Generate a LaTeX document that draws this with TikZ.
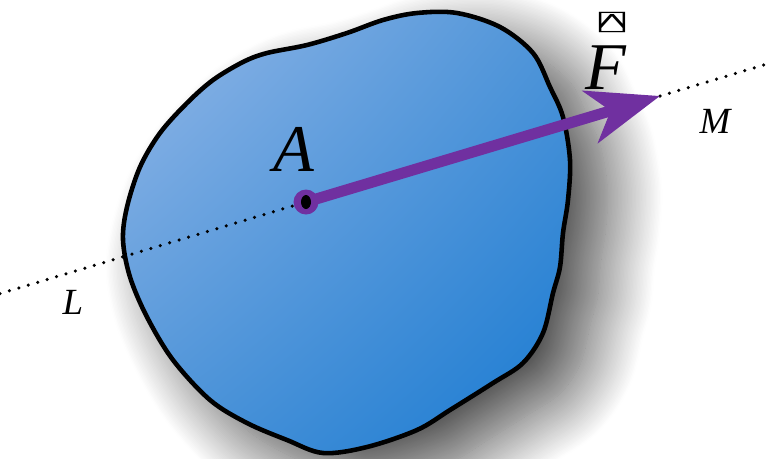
\documentclass[tikz,border=0pt]{standalone}
\usepackage{fontspec}
\newfontfamily\labfont{Liberation Serif}
\newfontfamily\symfont{DejaVu Sans Mono}
\usetikzlibrary{arrows.meta,shadows.blur,shadings}

\begin{document}
\begin{tikzpicture}[x=0.02cm,y=-0.02cm]
    \definecolor{myforce}{RGB}{112,48,160}
    \definecolor{mybodyhi}{RGB}{148,184,232}
    \definecolor{mybodymid}{RGB}{78,148,216}
    \definecolor{mybodylo}{RGB}{24,122,210}

    \tikzset{
        body/.style={line width=2.6pt, draw=black, upper left=mybodyhi,
            upper right=mybodymid, lower left=mybodymid, lower right=mybodylo,
            blur shadow={shadow xshift=0.75cm, shadow yshift=-0.6cm,
                shadow blur radius=1.1cm, shadow blur steps=40,
                shadow opacity=72}},
        actionline/.style={line width=2pt, dash pattern=on 0pt off 5.6pt, line cap=round},
        force/.style={myforce, line width=0.22cm,
            -{Stealth[length=1.45cm, width=1.08cm, inset=0.42cm]}},
        lbl/.style={font=\labfont\itshape\fontsize{38}{44}\selectfont},
        sidelbl/.style={font=\labfont\itshape\fontsize{21}{25}\selectfont}
    }

    \useasboundingbox (0,0) rectangle (768,458);

    % body
    \shade[body] plot[smooth cycle, tension=0.55] coordinates {
        (457,13) (500,27) (533,53) (550,87) (563,117) (570,160) (568,200)
        (563,233) (560,267) (553,293) (543,333) (523,363) (493,383)
        (450,410) (417,430) (367,447) (323,453) (287,440) (247,423)
        (210,400) (173,360) (147,317) (130,277) (123,240) (127,207)
        (140,167) (160,133) (187,103) (213,80) (243,62) (267,53)
        (307,45) (347,33) (383,20) (417,13)};

    \coordinate (A) at (306,202);
    \coordinate (tip) at (660,96);
    \coordinate (Lend) at (0,293.6);
    \coordinate (Mend) at (768,63.7);

    % line of action
    \draw[actionline] (Lend) -- (A);
    \draw[actionline] (tip) -- (Mend);

    \draw[force] (A) -- (tip);
    \fill[myforce] (A) circle (12.5);
    \fill[black] (A) ellipse (5 and 7);

    \node[lbl] (labA) at (294,149) {A};
    \node[lbl] (labF) at (606,68) {F};
    \node[font=\symfont\fontsize{12.5}{15}\selectfont, inner sep=0pt] (vecF) at (612,22)
        {\scalebox{2}[1]{⍓}};
    \node[sidelbl] (labM) at (715,121) {M};
    \node[sidelbl] (labL) at (73,302) {L};
\end{tikzpicture}
\end{document}
